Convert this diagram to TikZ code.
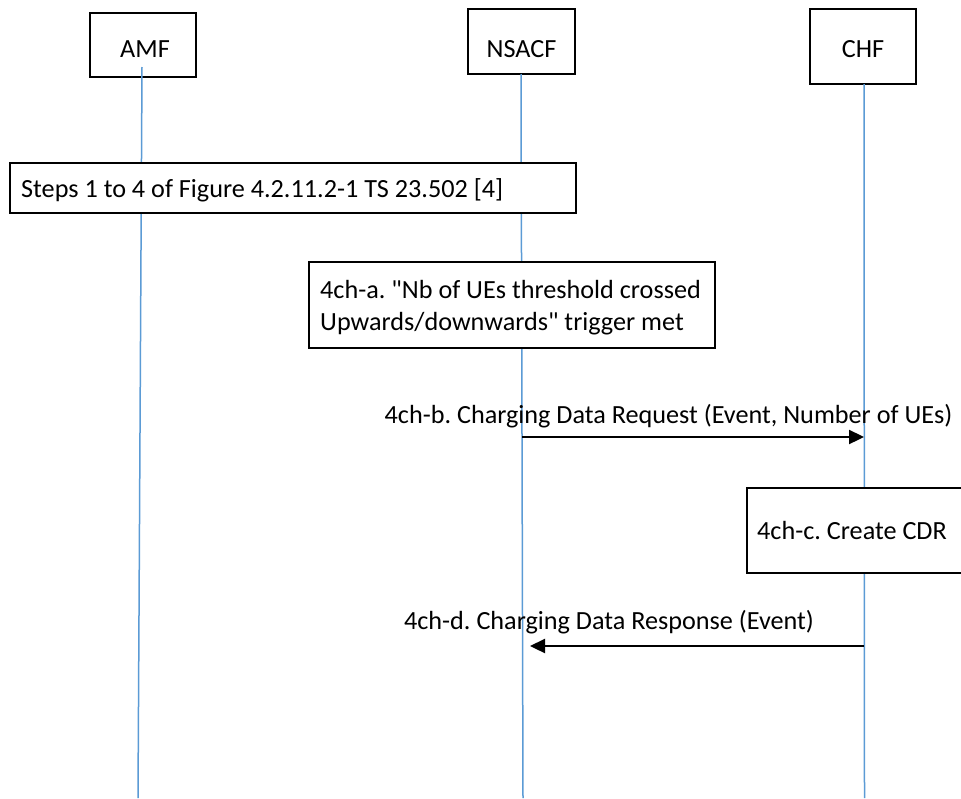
\documentclass[tikz,border=0pt]{standalone}
\usepackage{fontspec}
\setmainfont{Carlito}[Ligatures=TeXOff]
\usetikzlibrary{arrows.meta}
\definecolor{lifeblue}{RGB}{91,155,213}
\frenchspacing
\begin{document}
\begin{tikzpicture}[x=1pt,y=-1pt,
  font=\fontsize{26.2}{32}\selectfont\frenchspacing,
  box/.style={draw=black,line width=1.4pt,fill=white,inner sep=0pt},
  life/.style={draw=lifeblue,line width=1.5pt},
  msg/.style={line width=2.3pt,-{Triangle[length=15pt,width=14pt]}},
  lbl/.style={inner sep=0pt,anchor=base},
  lbw/.style={inner sep=0pt,anchor=base west}]
\useasboundingbox (0,0) rectangle (961,798);
\clip (0,0) rectangle (961,798);
\fill[white] (0,0) rectangle (961,798);
% header boxes
\node[box,minimum width=106pt,minimum height=64pt] (amf) at (143,45) {};
\node[lbl] (amfL) at (145,57) {AMF};
\node[box,minimum width=107pt,minimum height=65pt] (nsacf) at (521.5,41.5) {};
\node[lbl] (nsacfL) at (521.5,57) {NSACF};
\node[box,minimum width=106pt,minimum height=75pt] (chf) at (863,46.5) {};
\node[lbl] (chfL) at (863,57) {CHF};
% lifelines
\coordinate (amfT) at (142,67);
\coordinate (amfB) at (138,798);
\coordinate (nsT) at (521,74);
\coordinate (nsB) at (523,798);
\coordinate (chT) at (864,84);
\coordinate (chB) at (864.5,798);
\draw[life] (amfT) -- (amfB);
\draw[life] (nsT) -- (nsB);
\draw[life] (chT) -- (chB);
% step boxes
\node[box,minimum width=566pt,minimum height=50pt] (steps) at (293,188) {};
\node[lbw] (stepsL) at (21,197) {Steps 1 to 4 of Figure 4.2.11.2-1 TS 23.502 [4]};
\node[box,minimum width=406pt,minimum height=86pt] (stepa) at (512,305) {};
\node[lbw] (stepaL1) at (320,298) {4ch-a. "Nb of UEs threshold crossed};
\node[lbw] (stepaL2) at (320,330) {Upwards/downwards" trigger met};
\node[box,minimum width=234pt,minimum height=85pt] (cdr) at (864,530.5) {};
\node[lbw] (cdrL) at (757,539) {4ch-c. Create CDR};
% messages
\coordinate (nsReq) at (522,437);
\coordinate (chReq) at (864,437);
\coordinate (chRsp) at (864,646);
\coordinate (nsRsp) at (530,646);
\draw[msg] (nsReq) -- (chReq);
\draw[msg] (chRsp) -- (nsRsp);
\node[lbl] (lblb) at (668.5,423) {4ch-b. Charging Data Request (Event, Number of UEs)};
\node[lbl] (lbld) at (609,629) {4ch-d. Charging Data Response (Event)};
\end{tikzpicture}
\end{document}
